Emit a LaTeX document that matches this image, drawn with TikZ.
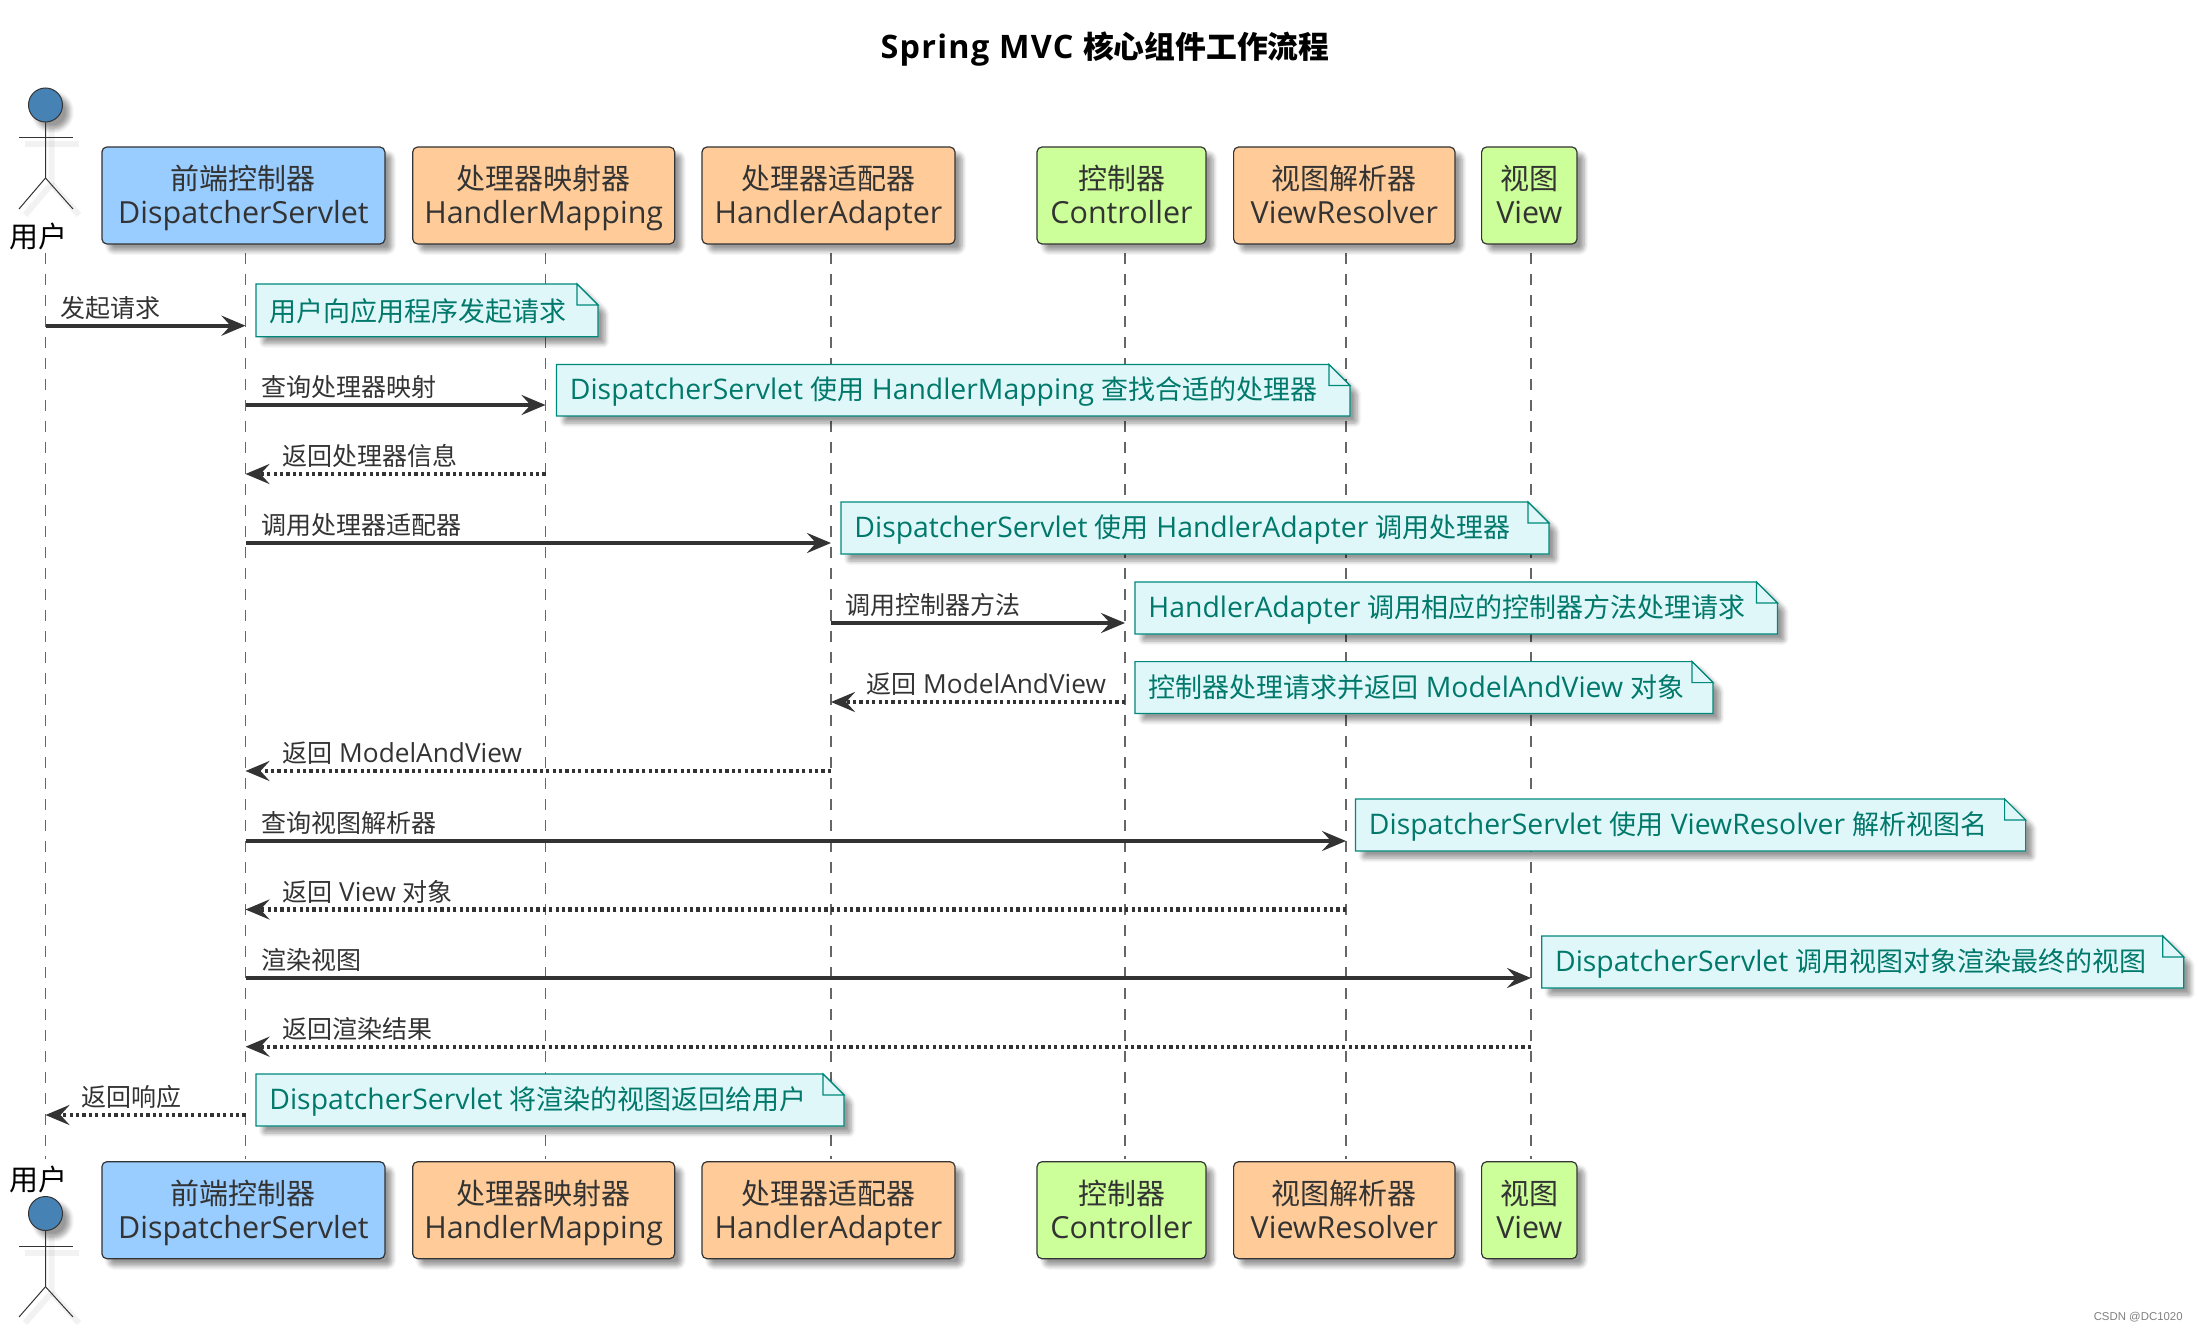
\documentclass[tikz,border=0pt]{standalone}
\usepackage{fontspec}
\setmainfont[Scale=1.05]{Open Sans}
\newfontfamily\cjk{Noto Sans CJK SC}
\newfontfamily\markfont{Liberation Sans}
\usetikzlibrary{arrows.meta,shadows.blur}
\definecolor{inkgray}{HTML}{333333}
\definecolor{dsblue}{HTML}{99CCFF}
\definecolor{mporange}{HTML}{FFCC99}
\definecolor{ctgreen}{HTML}{CCFF99}
\definecolor{actorblue}{HTML}{4682B4}
\definecolor{notefill}{HTML}{E0F7FA}
\definecolor{noteline}{HTML}{00897B}
\definecolor{notetext}{HTML}{00796B}
\newcommand{\tophead}{\rule{0pt}{16pt}}
\tikzset{
	softshadow/.style={blur shadow={shadow xshift=3.5pt,shadow yshift=-3.5pt,shadow blur steps=6,shadow blur extra rounding=1pt,shadow opacity=40}},
	partbox/.style={draw=inkgray,line width=0.6pt,rounded corners=2.5pt,inner sep=0pt,text=inkgray,align=center,font=\fontsize{14.5pt}{17pt}\selectfont,softshadow},
	lifeline/.style={gray!80!black,line width=0.6pt,dash pattern=on 5.5pt off 5pt},
	msgcall/.style={inkgray,line width=2.1pt,-{Stealth[length=12pt,width=10pt,inset=4.5pt]}},
	msgback/.style={inkgray,line width=2.1pt,dash pattern=on 1.6pt off 1.6pt,-{Stealth[length=12pt,width=10pt,inset=4.5pt]}},
	msglabel/.style={anchor=west,inner sep=0pt,text=inkgray,yshift=-0.6pt,font=\fontsize{12.5pt}{15pt}\selectfont},
	noteback/.style={draw=noteline,line width=0.6pt,fill=notefill,softshadow},
	notefold/.style={draw=noteline,line width=0.6pt,fill=notefill},
	notelabel/.style={anchor=west,inner sep=0pt,text=notetext,font=\fontsize{13.5pt}{16pt}\selectfont},
	actorline/.style={inkgray,line width=0.5pt},
	actorshade/.style={black,opacity=0.05,line width=3pt,xshift=3pt,yshift=-3pt},
	actorhead/.style={circle,draw=inkgray,line width=0.5pt,fill=actorblue,minimum size=17pt,inner sep=0pt,softshadow},
	userlabel/.style={inner sep=0pt,text=black,font=\fontsize{14.5pt}{17pt}\selectfont\cjk}
}
\begin{document}
\begin{tikzpicture}[x=0.5pt,y=-0.5pt]
	\useasboundingbox (0,0) rectangle (2198,1331);
	\node [font=\fontsize{15.4pt}{18pt}\selectfont\bfseries,text=black,inner sep=0pt] (title) at (1105,49.5) {\addfontfeature{LetterSpace=4}Spring MVC {\cjk 核心组件工作流程}};
	% lifelines
	\coordinate (lu) at (45.5,253);
	\coordinate (lds) at (245.5,253);
	\coordinate (lhm) at (545.5,253);
	\coordinate (lha) at (831,253);
	\coordinate (lct) at (1125,253);
	\coordinate (lvr) at (1346,253);
	\coordinate (lvw) at (1531,253);
	\coordinate (lend) at (0,1159);
	\draw [lifeline] (lu) -- (lu|-lend);
	\draw [lifeline] (lds) -- (lds|-lend);
	\draw [lifeline] (lhm) -- (lhm|-lend);
	\draw [lifeline] (lha) -- (lha|-lend);
	\draw [lifeline] (lct) -- (lct|-lend);
	\draw [lifeline] (lvr) -- (lvr|-lend);
	\draw [lifeline] (lvw) -- (lvw|-lend);
	% top row
	\node [partbox,fill=dsblue,minimum width=141.5pt,minimum height=48.5pt] (dstop) at (243.4,195.5) {\cjk\tophead 前端控制器\\DispatcherServlet\strut};
	\node [partbox,fill=mporange,minimum width=131pt,minimum height=48.5pt] (hmtop) at (543.7,195.5) {\cjk\tophead 处理器映射器\\HandlerMapping\strut};
	\node [partbox,fill=mporange,minimum width=126.5pt,minimum height=48.5pt] (hatop) at (828.5,195.5) {\cjk\tophead 处理器适配器\\HandlerAdapter\strut};
	\node [partbox,fill=ctgreen,minimum width=84.5pt,minimum height=48.5pt] (cttop) at (1121.5,195.5) {\cjk\tophead 控制器\\Controller\strut};
	\node [partbox,fill=mporange,minimum width=110.7pt,minimum height=48.5pt] (vrtop) at (1344.3,195.5) {\cjk\tophead 视图解析器\\ViewResolver\strut};
	\node [partbox,fill=ctgreen,minimum width=47.7pt,minimum height=48.5pt] (vwtop) at (1529.3,195.5) {\cjk\tophead 视图\\View\strut};
	% bottom row
	\node [partbox,fill=dsblue,minimum width=141.5pt,minimum height=48.5pt] (dsbot) at (243.4,1210.2) {\cjk\tophead 前端控制器\\DispatcherServlet\strut};
	\node [partbox,fill=mporange,minimum width=131pt,minimum height=48.5pt] (hmbot) at (543.7,1210.2) {\cjk\tophead 处理器映射器\\HandlerMapping\strut};
	\node [partbox,fill=mporange,minimum width=126.5pt,minimum height=48.5pt] (habot) at (828.5,1210.2) {\cjk\tophead 处理器适配器\\HandlerAdapter\strut};
	\node [partbox,fill=ctgreen,minimum width=84.5pt,minimum height=48.5pt] (ctbot) at (1121.5,1210.2) {\cjk\tophead 控制器\\Controller\strut};
	\node [partbox,fill=mporange,minimum width=110.7pt,minimum height=48.5pt] (vrbot) at (1344.3,1210.2) {\cjk\tophead 视图解析器\\ViewResolver\strut};
	\node [partbox,fill=ctgreen,minimum width=47.7pt,minimum height=48.5pt] (vwbot) at (1529.3,1210.2) {\cjk\tophead 视图\\View\strut};
	% actor top
	\draw [actorshade] (45.5,122) -- (45.5,178) -- (19,209);
	\draw [actorshade] (45.5,178) -- (73,209);
	\draw [actorshade] (19,138) -- (73,138);
	\node [actorhead] (headtop) at (45.5,105) {};
	\draw [actorline] (headtop.south) -- (45.5,178) -- (19,209);
	\draw [actorline] (45.5,178) -- (73,209);
	\draw [actorline] (19,138) -- (73,138);
	\node [userlabel] (usertop) at (39,236) {用户};
	% actor bottom
	\draw [actorshade] (45.5,1230) -- (45.5,1286.7) -- (19,1317);
	\draw [actorshade] (45.5,1286.7) -- (73,1317);
	\draw [actorshade] (19,1246.7) -- (73,1246.7);
	\node [actorhead] (headbot) at (45.5,1213.5) {};
	\draw [actorline] (headbot.south) -- (45.5,1286.7) -- (19,1317);
	\draw [actorline] (45.5,1286.7) -- (73,1317);
	\draw [actorline] (19,1246.7) -- (73,1246.7);
	\node [userlabel] (userbot) at (39,1179) {用户};
	% messages
	\coordinate (r1) at (0,325.7);
	\coordinate (r2) at (0,405);
	\coordinate (r3) at (0,474);
	\coordinate (r4) at (0,543);
	\coordinate (r5) at (0,623);
	\coordinate (r6) at (0,702);
	\coordinate (r7) at (0,771);
	\coordinate (r8) at (0,841);
	\coordinate (r9) at (0,909.5);
	\coordinate (r10) at (0,978);
	\coordinate (r11) at (0,1046.7);
	\coordinate (r12) at (0,1115);
	\draw [msgcall] (lu|-r1) -- (lds|-r1);
	\draw [msgcall] (lds|-r2) -- (lhm|-r2);
	\draw [msgback] (lhm|-r3) -- (lds|-r3);
	\draw [msgcall] (lds|-r4) -- (lha|-r4);
	\draw [msgcall] (lha|-r5) -- (lct|-r5);
	\draw [msgback] (lct|-r6) -- (lha|-r6);
	\draw [msgback] (lha|-r7) -- (lds|-r7);
	\draw [msgcall] (lds|-r8) -- (lvr|-r8);
	\draw [msgback] (lvr|-r9) -- (lds|-r9);
	\draw [msgcall] (lds|-r10) -- (lvw|-r10);
	\draw [msgback] (lvw|-r11) -- (lds|-r11);
	\draw [msgback] (lds|-r12) -- (lu|-r12);
	\node [msglabel] (m1) at (60,306.7) {\cjk 发起请求};
	\node [msglabel] (m2) at (261,386) {\cjk 查询处理器映射};
	\node [msglabel] (m3) at (282,455) {\cjk 返回处理器信息};
	\node [msglabel] (m4) at (261,524) {\cjk 调用处理器适配器};
	\node [msglabel] (m5) at (845,604) {\cjk 调用控制器方法};
	\node [msglabel] (m6) at (866,683) {{\cjk 返回} ModelAndView};
	\node [msglabel] (m7) at (282,752) {{\cjk 返回} ModelAndView};
	\node [msglabel] (m8) at (261,822) {\cjk 查询视图解析器};
	\node [msglabel] (m9) at (282,890.5) {{\cjk 返回} View {\cjk 对象}};
	\node [msglabel] (m10) at (261,959) {\cjk 渲染视图};
	\node [msglabel] (m11) at (282,1027.7) {\cjk 返回渲染结果};
	\node [msglabel] (m12) at (81,1096) {\cjk 返回响应};
	% notes
	\draw [noteback] (256,284) -- (577,284) -- (598,305) -- (598,336.7) -- (256,336.7) -- cycle;
	\draw [notefold] (577,284) -- (577,305) -- (598,305) -- cycle;
	\node [notelabel] (n1) at (269,311) {\cjk 用户向应用程序发起请求};
	\draw [noteback] (556.5,364.5) -- (1329,364.5) -- (1350,385.5) -- (1350,416) -- (556.5,416) -- cycle;
	\draw [notefold] (1329,364.5) -- (1329,385.5) -- (1350,385.5) -- cycle;
	\node [notelabel] (n2) at (569.5,391.5) {DispatcherServlet {\cjk 使用} HandlerMapping {\cjk 查找合适的处理器}};
	\draw [noteback] (841,502) -- (1528,502) -- (1549,523) -- (1549,554) -- (841,554) -- cycle;
	\draw [notefold] (1528,502) -- (1528,523) -- (1549,523) -- cycle;
	\node [notelabel] (n3) at (854,529.5) {DispatcherServlet {\cjk 使用} HandlerAdapter {\cjk 调用处理器}};
	\draw [noteback] (1135,582) -- (1756.5,582) -- (1777.5,603) -- (1777.5,634) -- (1135,634) -- cycle;
	\draw [notefold] (1756.5,582) -- (1756.5,603) -- (1777.5,603) -- cycle;
	\node [notelabel] (n4) at (1148,609.5) {HandlerAdapter {\cjk 调用相应的控制器方法处理请求}};
	\draw [noteback] (1135,661.6) -- (1692,661.6) -- (1713,682.6) -- (1713,713.5) -- (1135,713.5) -- cycle;
	\draw [notefold] (1692,661.6) -- (1692,682.6) -- (1713,682.6) -- cycle;
	\node [notelabel] (n5) at (1148,687.5) {{\cjk 控制器处理请求并返回} ModelAndView {\cjk 对象}};
	\draw [noteback] (1355.5,799) -- (2004.6,799) -- (2025.6,820) -- (2025.6,851) -- (1355.5,851) -- cycle;
	\draw [notefold] (2004.6,799) -- (2004.6,820) -- (2025.6,820) -- cycle;
	\node [notelabel] (n6) at (1368.5,826.5) {DispatcherServlet {\cjk 使用} ViewResolver {\cjk 解析视图名}};
	\draw [noteback] (1541.7,936) -- (2162.7,936) -- (2183.7,957) -- (2183.7,988) -- (1541.7,988) -- cycle;
	\draw [notefold] (2162.7,936) -- (2162.7,957) -- (2183.7,957) -- cycle;
	\node [notelabel] (n7) at (1554.7,963.5) {DispatcherServlet {\cjk 调用视图对象渲染最终的视图}};
	\draw [noteback] (256,1074) -- (823,1074) -- (844,1095) -- (844,1126) -- (256,1126) -- cycle;
	\draw [notefold] (823,1074) -- (823,1095) -- (844,1095) -- cycle;
	\node [notelabel] (n8) at (269,1101.5) {DispatcherServlet {\cjk 将渲染的视图返回给用户}};
	\node [anchor=east,inner sep=0pt,text=gray,font=\fontsize{5.7pt}{7pt}\selectfont\markfont] (mark) at (2183,1317) {CSDN @DC1020};
\end{tikzpicture}
\end{document}
